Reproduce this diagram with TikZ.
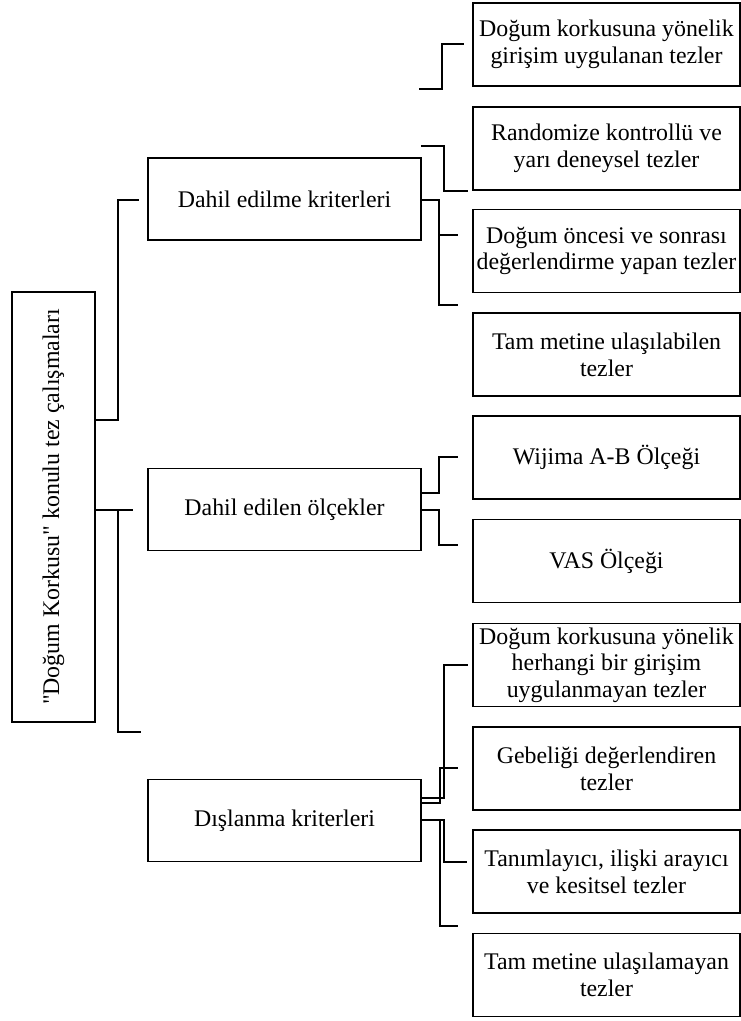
\documentclass[tikz,border=0pt]{standalone}
\usepackage{fontspec}
\usepackage{graphicx}
\setmainfont{Liberation Serif}
\newfontfamily\rootfont{Liberation Serif}
\usetikzlibrary{calc}
\tikzset{
  box/.style={draw, line width=1.4pt, rectangle, inner sep=0pt, align=center,
    font=\fontsize{17.9}{20}\selectfont},
  lbox/.style={box, minimum width=200.25pt, minimum height=62.25pt},
  mbox/.style={box, minimum width=204.75pt, minimum height=61.5pt},
  conn/.style={line width=1.4pt},
}
\begin{document}
\begin{tikzpicture}[x=0.75pt, y=-0.75pt]
\useasboundingbox (0,0) rectangle (741,1021);
% root
\node[box, minimum width=62.25pt, minimum height=322.5pt] (root) at (53.5,507)
  {\rotatebox{90}{\rootfont "Doğum Korkusu" konulu tez çalışmaları}};
% level 1
\node[mbox] (dek) at (284.5,199) {Dahil edilme kriterleri};
\node[mbox] (deo) at (284.5,509.5) {Dahil edilen ölçekler};
\node[mbox] (dk) at (284.5,820.5) {Dışlanma kriterleri};
% level 2
\node[lbox] (a1) at (606.5,44.5) {Doğum korkusuna yönelik\\girişim uygulanan tezler};
\node[lbox] (a2) at (606.5,148.5) {Randomize kontrollü ve\\yarı deneysel tezler};
\node[lbox] (a3) at (606.5,251) {Doğum öncesi ve sonrası\\değerlendirme yapan tezler};
\node[lbox] (a4) at (606.5,354.5) {Tam metine ulaşılabilen\\tezler};
\node[lbox] (b1) at (606.5,457.5) {Wijima A-B Ölçeği};
\node[lbox] (b2) at (606.5,561) {VAS Ölçeği};
\node[lbox] (c1) at (606.5,665) {Doğum korkusuna yönelik\\herhangi bir girişim\\uygulanmayan tezler};
\node[lbox] (c2) at (606.5,768.5) {Gebeliği değerlendiren\\tezler};
\node[lbox] (c3) at (606.5,871.5) {Tanımlayıcı, ilişki arayıcı\\ve kesitsel tezler};
\node[lbox] (c4) at (606.5,975) {Tam metine ulaşılamayan\\tezler};
% root connectors
\draw[conn] ($(root.east)+(0,-87)$) -- ++(22,0) |- ($(dek.west)+(-8,1)$);
\draw[conn] ($(root.east)+(0,3)$) -- ++(37,0);
\draw[conn] ($(root.east)+(22,3)$) |- ++(23,222);
% Dahil edilme kriterleri connectors
\draw[conn] ($(a1.south west)+(-53,2)$) -- ++(23,0) |- ++(22,-45);
\draw[conn] ($(dek.north east)+(-1,-11)$) -- ++(23,0) |- ++(24,45);
\draw[conn] ($(dek.east)+(0,1)$) -- ++(17,0) |- ++(19,105);
\draw[conn] ($(dek.east)+(17,36)$) -- ++(19,0);
% Dahil edilen olcekler connectors
\draw[conn] ($(deo.east)+(0,-16.5)$) -- ++(17,0) |- ++(19,-36);
\draw[conn] ($(deo.east)+(0,0.5)$) -- ++(17,0) |- ++(19,35);
% Dislanma kriterleri connectors
\draw[conn] ($(dk.east)+(0,-22.5)$) -- ++(22,0) |- ++(24,-133);
\draw[conn] ($(dk.east)+(0,-17.5)$) -- ++(18,0) |- ++(18,-35);
\draw[conn] ($(dk.east)+(0,-0.5)$) -- ++(22,0) |- ++(23,42);
\draw[conn] ($(dk.east)+(0,-0.5)$) -- ++(18,0) |- ++(18,106);
\end{tikzpicture}
\end{document}
